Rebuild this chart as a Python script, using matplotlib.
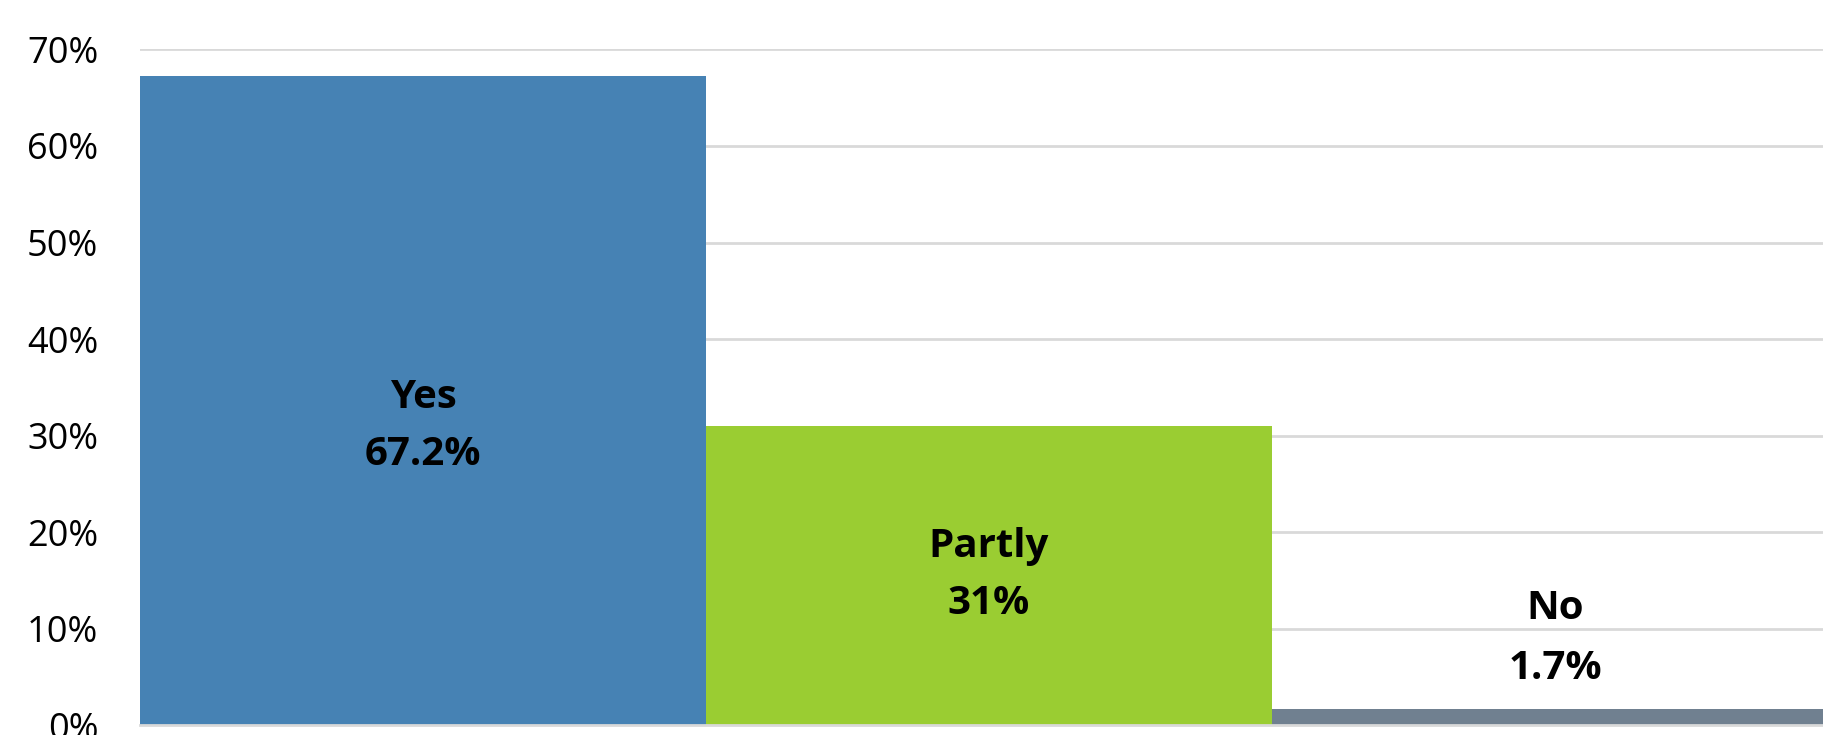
import matplotlib.pyplot as plt
from matplotlib.ticker import PercentFormatter

plt.rcParams['font.family'] = ['Open Sans', 'DejaVu Sans']

answers = ['Yes', 'Partly', 'No']
shares = [67.2, 31.0, 1.7]
share_labels = ['67.2%', '31%', '1.7%']
colors = ['#4682B4', '#9ACD32', '#708090']

# vertical placement of the two-line labels (answer / value), in axis units
name_y = [34.0, 18.5, 12.1]
value_y = [28.0, 12.6, 5.9]

fig = plt.figure(figsize=(18.24, 7.35), dpi=100)
ax = fig.add_axes([140 / 1824, 9.7 / 735, 1698 / 1824, 675.9 / 735])

x = range(len(answers))
ax.bar(x, shares, width=1.0, color=colors, zorder=2)

for i in x:
    ax.text(i, name_y[i], answers[i], ha='center', va='center',
            fontsize=29, fontweight='bold', color='black', zorder=3)
    ax.text(i, value_y[i], share_labels[i], ha='center', va='center',
            fontsize=29, fontweight='bold', color='black', zorder=3)

ax.set_xlim(-0.5, 2.5)
ax.set_ylim(0, 70)
ax.set_yticks(range(0, 71, 10))
ax.yaxis.set_major_formatter(PercentFormatter(decimals=0))
ax.set_xticks([])
ax.grid(axis='y', color='#d9d9d9', linewidth=2, zorder=0)
ax.tick_params(axis='y', length=0, pad=30, labelsize=26)
for side in ['top', 'right', 'left']:
    ax.spines[side].set_visible(False)
ax.spines['bottom'].set_color('#d9d9d9')
ax.spines['bottom'].set_linewidth(2)

fig.savefig('out.png', dpi=100)
